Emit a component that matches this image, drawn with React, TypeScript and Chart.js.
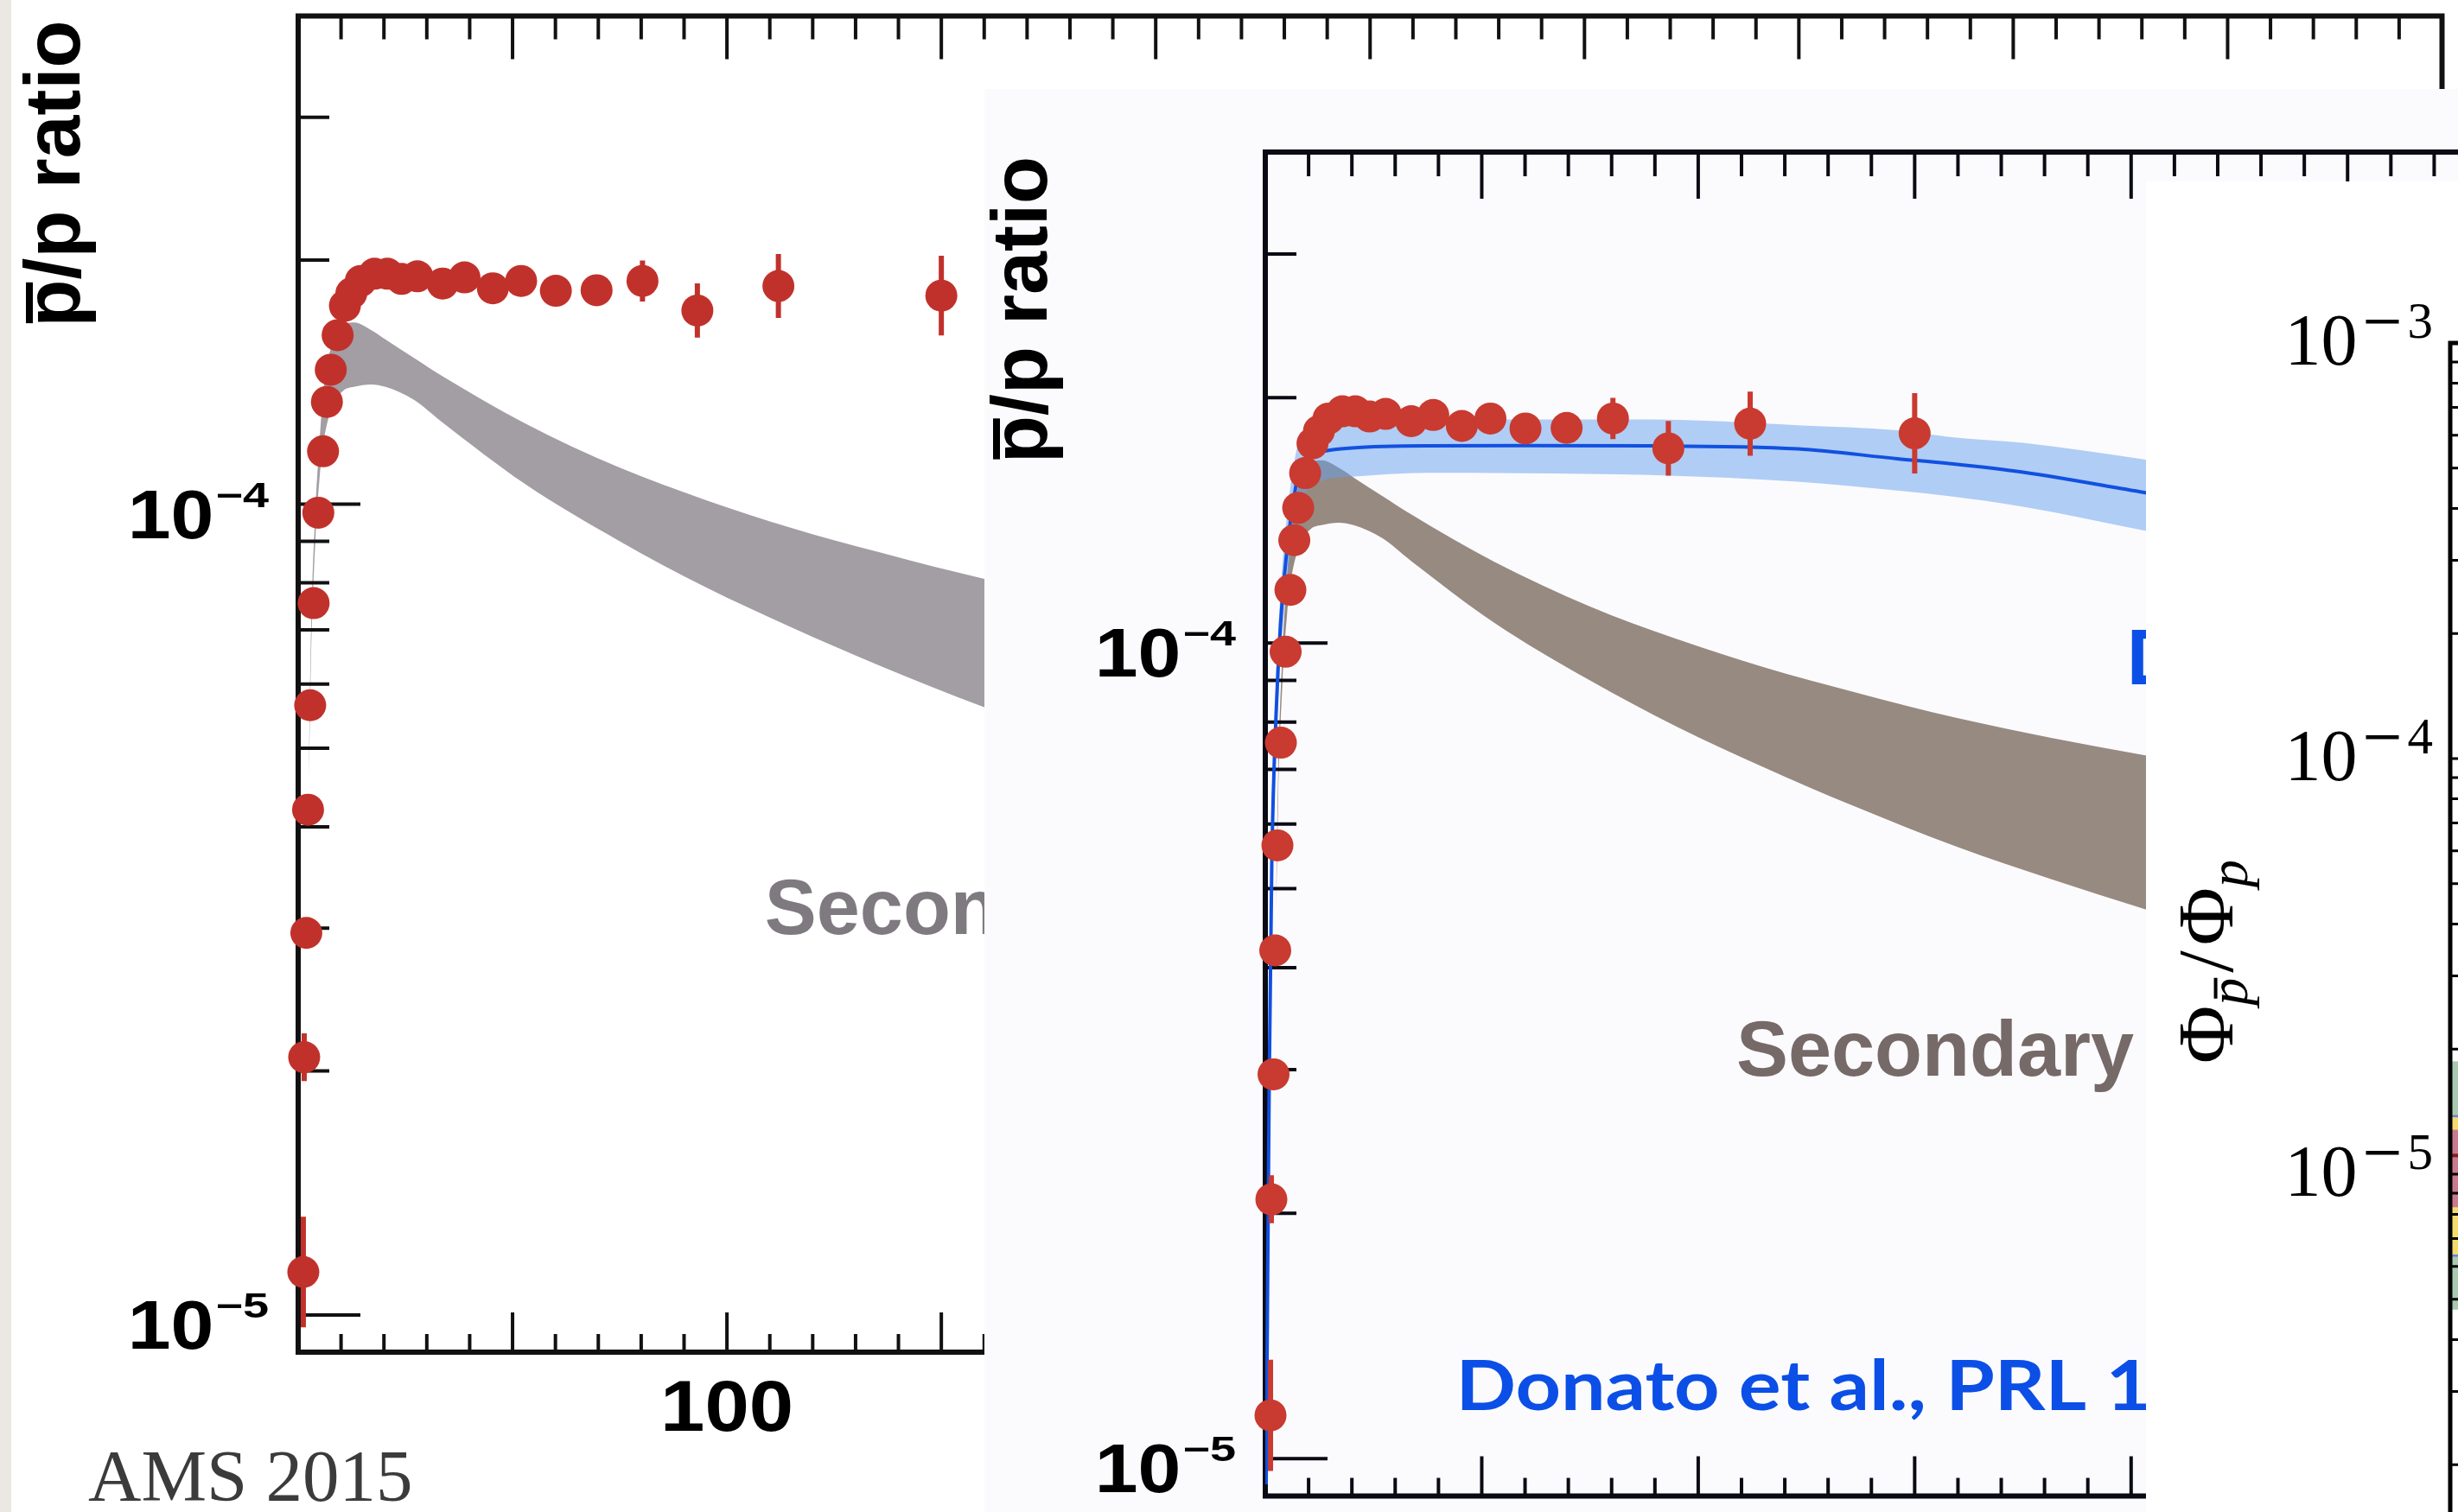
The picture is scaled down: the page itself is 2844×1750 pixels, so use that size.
import React, { useEffect, useRef } from "react";
import { Chart, registerables } from "chart.js";

Chart.register(...registerables);

const PAGE_W = 2844;
const PAGE_H = 1750;

// ---------- AMS-02 antiproton / proton ratio (rigidity in GV) ----------
const amsRigidity = [1.2, 1.4, 1.9, 2.3, 2.8, 3.6, 4.7, 5.8, 6.7, 7.6, 9.2, 10.9, 12.4, 14.6, 17.8, 20.8, 24.1, 27.8, 33.7, 38.8, 45.4, 52.0, 60.1, 69.6, 80.3, 93.1, 112, 150];
const amsRatio = [1.13e-5, 2.08e-5, 2.96e-5, 4.2e-5, 5.65e-5, 7.55e-5, 9.76e-5, 1.162e-4, 1.337e-4, 1.465e-4, 1.616e-4, 1.757e-4, 1.82e-4, 1.885e-4, 1.924e-4, 1.924e-4, 1.896e-4, 1.91e-4, 1.871e-4, 1.904e-4, 1.846e-4, 1.885e-4, 1.833e-4, 1.836e-4, 1.885e-4, 1.733e-4, 1.858e-4, 1.808e-4];
const amsRelErr = [0.17, 0.07, 0.04, 0.03, 0.02, 0.02, 0.02, 0.02, 0.02, 0.02, 0.02, 0.02, 0.02, 0.02, 0.02, 0.02, 0.02, 0.02, 0.02, 0.02, 0.02, 0.02, 0.025, 0.035, 0.06, 0.08, 0.095, 0.12];

// ---------- Secondary production band ----------
const secRigidity = [2.5, 3, 4, 5, 6, 8, 10.5, 13, 17, 20.4, 27, 33.6, 52.8, 75, 95, 115, 136, 160, 203, 230];
const secUpper = [4.9e-5, 7.0e-5, 9.8e-5, 1.2e-4, 1.4e-4, 1.58e-4, 1.66e-4, 1.675e-4, 1.64e-4, 1.596e-4, 1.515e-4, 1.439e-4, 1.259e-4, 1.109e-4, 1.012e-4, 9.35e-5, 8.71e-5, 8.09e-5, 7.29e-5, 6.95e-5];
const secLower = [4.6e-5, 6.5e-5, 9.0e-5, 1.08e-4, 1.2e-4, 1.32e-4, 1.38e-4, 1.395e-4, 1.405e-4, 1.395e-4, 1.345e-4, 1.262e-4, 1.06e-4, 9.0e-5, 7.9e-5, 7.05e-5, 6.31e-5, 5.62e-5, 4.72e-5, 4.27e-5];

// ---------- Donato et al. model (line + uncertainty band) ----------
const donatoRigidity = [0.2, 0.5, 0.9, 1.5, 2.5, 3.5, 4.8, 6.8, 8.5, 13.7, 20, 37, 60, 89, 123, 146, 158, 175, 203, 230];
const donatoRatio = [9.3e-6, 1.54e-5, 2.88e-5, 5.38e-5, 8.2e-5, 1.05e-4, 1.27e-4, 1.53e-4, 1.667e-4, 1.72e-4, 1.735e-4, 1.745e-4, 1.746e-4, 1.745e-4, 1.73e-4, 1.683e-4, 1.66e-4, 1.62e-4, 1.53e-4, 1.45e-4];
const donatoUpper = [1.0e-5, 1.7e-5, 3.2e-5, 6.0e-5, 9.0e-5, 1.15e-4, 1.4e-4, 1.68e-4, 1.8e-4, 1.86e-4, 1.87e-4, 1.88e-4, 1.88e-4, 1.88e-4, 1.85e-4, 1.824e-4, 1.79e-4, 1.76e-4, 1.68e-4, 1.6e-4];
const donatoLower = [8.5e-6, 1.4e-5, 2.6e-5, 4.9e-5, 7.4e-5, 9.5e-5, 1.15e-4, 1.38e-4, 1.5e-4, 1.585e-4, 1.6e-4, 1.617e-4, 1.615e-4, 1.607e-4, 1.577e-4, 1.538e-4, 1.514e-4, 1.47e-4, 1.374e-4, 1.28e-4];

// ---------- Third panel (flux ratio bands, left edge only visible) ----------
const modelEnergy = [1, 2];
const modelGreenUpper = [1.87e-5, 1.85e-5];
const modelGreenLower = [4.72e-6, 4.7e-6];
const modelYellowUpper = [1.38e-5, 1.37e-5];
const modelYellowLower = [6.37e-6, 6.35e-6];
const modelPinkUpper = [1.28e-5, 1.27e-5];
const modelPinkLower = [8.33e-6, 8.3e-6];
const modelCentral = [1.11e-5, 1.1e-5];

// ---------- ticks & labels ----------
const ratioMajorTicks = [1e-5, 1e-4];
const ratioMinorTicks = [2e-5, 3e-5, 4e-5, 5e-5, 6e-5, 7e-5, 8e-5, 9e-5, 2e-4, 3e-4];
const ratioTickExponents = ["\u22125", "\u22124"];
const rigidityLabels = [100, 200, 300, 400];
const rigidityMinorStep = 10;
const rigidityMajorStep = 50;
const fluxMajorTicks = [1e-6, 1e-5, 1e-4, 1e-3];
const fluxTickExponents = ["6", "5", "4", "3"];
const fluxMinorMantissas = [2, 3, 4, 5, 6, 7, 8, 9];

const SANS = '"Liberation Sans", Arial, Helvetica, sans-serif';
const SERIF = '"Liberation Serif", "DejaVu Serif", serif';

const xy = (xs: number[], ys: number[]) => xs.map((x, i) => ({ x, y: ys[i] }));

function drawRootPow(ctx: any, xRight: number, yTick: number, sup: string) {
  ctx.save();
  ctx.fillStyle = "#000";
  ctx.textAlign = "left";
  ctx.textBaseline = "alphabetic";
  ctx.font = `bold 80px ${SANS}`;
  const wb = ctx.measureText("10").width * 1.12;
  ctx.font = `bold 40px ${SANS}`;
  const ws = ctx.measureText(sup).width * 1.35;
  const x0 = xRight - ws - 2 - wb;
  ctx.font = `bold 80px ${SANS}`;
  ctx.save();
  ctx.translate(x0, yTick + 39);
  ctx.scale(1.12, 1);
  ctx.fillText("10", 0, 0);
  ctx.restore();
  ctx.font = `bold 40px ${SANS}`;
  ctx.save();
  ctx.translate(x0 + wb + 2, yTick + 3);
  ctx.scale(1.35, 1);
  ctx.fillText(sup, 0, 0);
  ctx.restore();
  ctx.restore();
}

function drawRootTitle(ctx: any, xBase: number, yStart: number) {
  ctx.save();
  ctx.translate(xBase, yStart);
  ctx.rotate(-Math.PI / 2);
  ctx.fillStyle = "#000";
  ctx.textAlign = "left";
  ctx.textBaseline = "alphabetic";
  ctx.font = `bold 90px ${SANS}`;
  ctx.fillText("p/p ratio", 0, 0);
  const pw = ctx.measureText("p").width;
  ctx.fillRect(pw * 0.08, -62, pw * 0.86, 8);
  ctx.restore();
}

type PanelText = { text: string; x: number; y: number; color: string; font: string; fit?: { sample: string; width: number } };
type RootOpts = { bg: string; axis: string; red: string; topMajor: number; topMinor: number; texts: PanelText[] };

function rootPlugin(o: RootOpts) {
  return {
    id: "rootStyle",
    beforeDraw(chart: any) {
      const { ctx, width, height } = chart;
      ctx.save();
      ctx.fillStyle = o.bg;
      ctx.fillRect(0, 0, width, height);
      ctx.restore();
    },
    beforeDatasetsDraw(chart: any) {
      const { ctx, chartArea: a, scales } = chart;
      const xs = scales.x;
      const ys = scales.y;
      ctx.save();
      ctx.strokeStyle = o.axis;
      ctx.lineWidth = 4;
      ctx.beginPath();
      const yTick = (v: number, len: number) => {
        const py = ys.getPixelForValue(v);
        ctx.moveTo(a.left, py);
        ctx.lineTo(a.left + len, py);
        ctx.moveTo(a.right, py);
        ctx.lineTo(a.right - len, py);
      };
      ratioMajorTicks.forEach((v) => yTick(v, 72));
      ratioMinorTicks.forEach((v) => yTick(v, 36));
      for (let v = xs.min; v <= xs.max + 1e-9; v += rigidityMinorStep) {
        const px = xs.getPixelForValue(v);
        const major = Math.abs(v % rigidityMajorStep) < 1e-6;
        ctx.moveTo(px, a.top);
        ctx.lineTo(px, a.top + (major ? o.topMajor : o.topMinor));
        ctx.moveTo(px, a.bottom);
        ctx.lineTo(px, a.bottom - (major ? 46 : 21));
      }
      ctx.stroke();
      ctx.lineWidth = 6;
      ctx.strokeRect(a.left, a.top, a.right - a.left, a.bottom - a.top);
      ctx.restore();
    },
    afterDatasetsDraw(chart: any) {
      const { ctx, scales } = chart;
      const xs = scales.x;
      const ys = scales.y;
      ctx.save();
      ctx.strokeStyle = o.red;
      ctx.lineWidth = 6;
      ctx.beginPath();
      amsRigidity.forEach((r, i) => {
        const px = xs.getPixelForValue(r);
        const e = amsRelErr[i];
        ctx.moveTo(px, ys.getPixelForValue(amsRatio[i] * (1 + e)));
        ctx.lineTo(px, ys.getPixelForValue(amsRatio[i] / (1 + e)));
      });
      ctx.stroke();
      ctx.restore();
    },
    afterDraw(chart: any) {
      const { ctx, chartArea: a, scales } = chart;
      const xs = scales.x;
      const ys = scales.y;
      ratioMajorTicks.forEach((v, i) => drawRootPow(ctx, a.left - 34, ys.getPixelForValue(v), ratioTickExponents[i]));
      ctx.save();
      ctx.fillStyle = "#000";
      ctx.textAlign = "left";
      ctx.textBaseline = "alphabetic";
      ctx.font = `bold 84px ${SANS}`;
      rigidityLabels.forEach((v) => {
        const px = xs.getPixelForValue(v);
        const s = String(v);
        const w = ctx.measureText(s).width * 1.1;
        ctx.save();
        ctx.translate(px - w / 2, a.bottom + 91);
        ctx.scale(1.1, 1);
        ctx.fillText(s, 0, 0);
        ctx.restore();
      });
      ctx.restore();
      drawRootTitle(ctx, a.left - 253, a.top + 360);
      o.texts.forEach((t) => {
        ctx.save();
        ctx.font = t.font;
        ctx.fillStyle = t.color;
        ctx.textAlign = "left";
        ctx.textBaseline = "alphabetic";
        const k = t.fit ? t.fit.width / ctx.measureText(t.fit.sample).width : 1;
        ctx.translate(xs.getPixelForValue(t.x), ys.getPixelForValue(t.y));
        ctx.scale(k, 1);
        ctx.fillText(t.text, 0, 0);
        ctx.restore();
      });
    },
  };
}

function baseOptions(padding: any, xMax: number) {
  return {
    animation: false,
    responsive: false,
    maintainAspectRatio: false,
    devicePixelRatio: 1,
    events: [],
    layout: { padding },
    scales: {
      x: { type: "linear", min: 0, max: xMax, display: false },
      y: { type: "logarithmic", min: 9e-6, max: 4e-4, display: false },
    },
    plugins: {
      legend: { display: false },
      tooltip: { enabled: false },
      filler: { drawTime: "beforeDatasetsDraw" },
    },
  };
}

const pointsDataset = (color: string) => ({
  data: xy(amsRigidity, amsRatio),
  showLine: false,
  pointRadius: 18.5,
  pointBackgroundColor: color,
  pointBorderWidth: 0,
  clip: false,
});

const bandEdge = (xs: number[], ys: number[], fill: any, color: string) => ({
  data: xy(xs, ys),
  borderWidth: 0,
  borderColor: "rgba(0,0,0,0)",
  backgroundColor: color,
  pointRadius: 0,
  fill,
  cubicInterpolationMode: "monotone",
});

function panel1Config() {
  const red = "#c1312b";
  const gray = "#a39da4";
  return {
    type: "line",
    data: {
      datasets: [
        pointsDataset(red),
        bandEdge(secRigidity, secUpper, "+1", gray),
        bandEdge(secRigidity, secLower, false, gray),
      ],
    },
    options: baseOptions({ left: 332, top: 13, right: 6, bottom: 185 }, 500),
    plugins: [
      rootPlugin({
        bg: "#ffffff",
        axis: "#111111",
        red,
        topMajor: 50,
        topMinor: 27,
        texts: [{ text: "Secondary", x: 108.8, y: 2.95e-5, color: "#7f7a80", font: `bold 90px ${SANS}` }],
      }),
    ],
  };
}

function panel2Config() {
  const red = "#c93a30";
  const brown = "#978a81";
  const blueBand = "rgba(101,159,236,0.5)";
  const blue = "#1150e0";
  return {
    type: "line",
    data: {
      datasets: [
        pointsDataset(red),
        {
          data: xy(donatoRigidity, donatoRatio),
          borderColor: blue,
          borderWidth: 4,
          pointRadius: 0,
          fill: false,
          cubicInterpolationMode: "monotone",
        },
        bandEdge(donatoRigidity, donatoUpper, "+1", blueBand),
        bandEdge(donatoRigidity, donatoLower, false, blueBand),
        bandEdge(secRigidity, secUpper, "+1", brown),
        bandEdge(secRigidity, secLower, false, brown),
      ],
    },
    options: baseOptions({ left: 325, top: 73, right: 10, bottom: 7 }, 500),
    plugins: [
      rootPlugin({
        bg: "#fbfbfe",
        axis: "#0a0a14",
        red,
        topMajor: 54,
        topMinor: 28,
        texts: [
          { text: "Secondary", x: 108.8, y: 2.95e-5, color: "#766a68", font: `bold 90px ${SANS}` },
          {
            text: "Donato et al., PRL 102 (2009)",
            x: 44,
            y: 1.148e-5,
            color: "#0c4fe6",
            font: `bold 81px Lato, "Open Sans", sans-serif`,
            fit: { sample: "Donato et al., PRL ", width: 752 },
          },
          { text: "DM", x: 199, y: 8.9e-5, color: "#0c4fe6", font: `bold 90px ${SANS}` },
        ],
      }),
    ],
  };
}

function drawCMPow(ctx: any, xRight: number, yTick: number, d: string) {
  ctx.save();
  ctx.fillStyle = "#000";
  ctx.textAlign = "left";
  ctx.textBaseline = "alphabetic";
  ctx.font = `59px ${SERIF}`;
  const wd = ctx.measureText(d).width;
  const digitX = xRight - wd;
  ctx.fillText(d, digitX, yTick - 6);
  const mR = digitX - 10;
  const mL = mR - 38;
  ctx.fillRect(mL, yTick - 27, 38, 4.5);
  ctx.font = `84px ${SERIF}`;
  const w10 = ctx.measureText("10").width;
  ctx.fillText("10", mL - 10 - w10, yTick + 25);
  ctx.restore();
}

function fluxPlugin() {
  return {
    id: "fluxStyle",
    beforeDraw(chart: any) {
      const { ctx, width, height } = chart;
      ctx.save();
      ctx.fillStyle = "#ffffff";
      ctx.fillRect(0, 0, width, height);
      ctx.restore();
    },
    afterDatasetsDraw(chart: any) {
      const { ctx, chartArea: a, scales } = chart;
      const ys = scales.y;
      ctx.save();
      ctx.strokeStyle = "#000";
      ctx.lineWidth = 3;
      ctx.beginPath();
      fluxMajorTicks.forEach((v) => {
        const py = ys.getPixelForValue(v);
        ctx.moveTo(a.left, py);
        ctx.lineTo(a.left + 22, py);
        if (v < 1e-3) {
          fluxMinorMantissas.forEach((m) => {
            const pm = ys.getPixelForValue(v * m);
            ctx.moveTo(a.left, pm);
            ctx.lineTo(a.left + 12, pm);
          });
        }
      });
      ctx.stroke();
      ctx.lineWidth = 5;
      ctx.strokeRect(a.left, a.top, a.right - a.left, a.bottom - a.top);
      ctx.restore();
    },
    afterDraw(chart: any) {
      const { ctx, chartArea: a, scales } = chart;
      const ys = scales.y;
      fluxMajorTicks.forEach((v, i) => drawCMPow(ctx, a.left - 20, ys.getPixelForValue(v), fluxTickExponents[i]));
      // y title  Φ_p̄ / Φ_p
      ctx.save();
      ctx.translate(a.left - 252, a.top + 834);
      ctx.rotate(-Math.PI / 2);
      ctx.fillStyle = "#000";
      ctx.textAlign = "left";
      ctx.textBaseline = "alphabetic";
      let cx = 0;
      ctx.font = `92px ${SERIF}`;
      ctx.fillText("\u03A6", cx, 0);
      cx += ctx.measureText("\u03A6").width;
      ctx.font = `italic 64px ${SERIF}`;
      const pw = ctx.measureText("p").width;
      ctx.fillText("p", cx, 17);
      ctx.fillRect(cx + pw * 0.25, 17 - 0.46 * 64 - 9, pw * 0.75, 4);
      cx += pw + 6;
      ctx.font = `92px ${SERIF}`;
      ctx.fillText("/", cx, 0);
      cx += ctx.measureText("/").width + 6;
      ctx.fillText("\u03A6", cx, 0);
      cx += ctx.measureText("\u03A6").width;
      ctx.font = `italic 64px ${SERIF}`;
      ctx.fillText("p", cx, 17);
      ctx.restore();
    },
  };
}

function panel3Config() {
  const edge = (ys: number[], fill: any, bg: string, border: string, bw: number) => ({
    data: xy(modelEnergy, ys),
    borderWidth: bw,
    borderColor: border,
    backgroundColor: bg,
    pointRadius: 0,
    fill,
  });
  return {
    type: "line",
    data: {
      datasets: [
        edge(modelCentral, false, "rgba(0,0,0,0)", "#8a1c1c", 4),
        edge(modelPinkUpper, "+1", "#c97a90", "rgba(0,0,0,0)", 0),
        edge(modelPinkLower, false, "#c97a90", "rgba(0,0,0,0)", 0),
        edge(modelYellowUpper, "+1", "#f3dc6b", "#6a80e0", 2.5),
        edge(modelYellowLower, false, "#f3dc6b", "#6a80e0", 2.5),
        edge(modelGreenUpper, "+1", "#a9c9b1", "rgba(0,0,0,0)", 0),
        edge(modelGreenLower, false, "#a9c9b1", "rgba(0,0,0,0)", 0),
      ],
    },
    options: {
      animation: false,
      responsive: false,
      maintainAspectRatio: false,
      devicePixelRatio: 1,
      events: [],
      layout: { padding: { left: 352, top: 187, right: 50, bottom: 0 } },
      scales: {
        x: { type: "logarithmic", min: 1, max: 1000, display: false },
        y: { type: "logarithmic", min: 1e-6, max: 1e-3, display: false },
      },
      plugins: {
        legend: { display: false },
        tooltip: { enabled: false },
        filler: { drawTime: "beforeDatasetsDraw" },
      },
    },
    plugins: [fluxPlugin()],
  };
}

export default function App() {
  const r1 = useRef<HTMLCanvasElement>(null);
  const r2 = useRef<HTMLCanvasElement>(null);
  const r3 = useRef<HTMLCanvasElement>(null);

  useEffect(() => {
    document.body.style.margin = "0";
    document.body.style.overflow = "hidden";
    const c1 = new Chart(r1.current as any, panel1Config() as any);
    const c2 = new Chart(r2.current as any, panel2Config() as any);
    const c3 = new Chart(r3.current as any, panel3Config() as any);
    return () => {
      c1.destroy();
      c2.destroy();
      c3.destroy();
    };
  }, []);

  const abs = (left: number, top: number, width: number, height: number): any => ({
    position: "absolute",
    left,
    top,
    width,
    height,
    display: "block",
  });

  return (
    <div style={{ position: "relative", width: PAGE_W, height: PAGE_H, overflow: "hidden", background: "#ffffff" }}>
      <div style={{ ...abs(0, 0, 13, PAGE_H), background: "#ebe8e4" }} />
      <canvas ref={r1} width={2831} height={1750} style={abs(13, 0, 2831, 1750)} />
      <canvas ref={r2} width={2848} height={1647} style={abs(1139, 103, 2848, 1647)} />
      <canvas ref={r3} width={1400} height={1630} style={abs(2483, 210, 1400, 1630)} />
      <div
        style={{
          position: "absolute",
          left: 102,
          top: 1666,
          font: `85px ${SERIF}`,
          lineHeight: "85px",
          color: "#3b3b3b",
          whiteSpace: "nowrap",
        }}
      >
        AMS 2015
      </div>
    </div>
  );
}
